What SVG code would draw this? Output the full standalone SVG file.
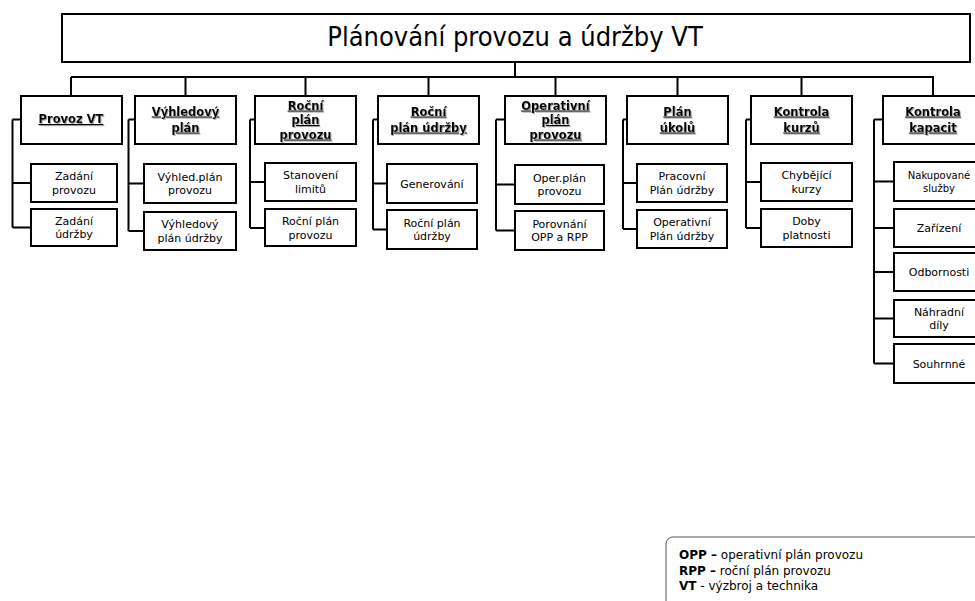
<svg xmlns="http://www.w3.org/2000/svg" width="975" height="601" viewBox="0 0 975 601">
<defs>
<filter id="ts" x="-10%" y="-20%" width="130%" height="160%">
<feDropShadow dx="1" dy="1" stdDeviation="0.6" flood-color="#888" flood-opacity="0.7"/>
</filter>
<style>
.box{fill:#fff;stroke:#000;stroke-width:2}
.conn{fill:none;stroke:#000;stroke-width:2}
.title{font-family:"DejaVu Sans Condensed","DejaVu Sans",sans-serif;font-size:27px;text-anchor:middle;fill:#000}
.hdr{font-family:"DejaVu Sans",sans-serif;font-weight:bold;font-size:11.5px;text-decoration:underline;text-anchor:middle;fill:#000;filter:url(#ts)}
.sub{font-family:"DejaVu Sans",sans-serif;font-size:11px;text-anchor:middle;fill:#000}
.leg{font-family:"DejaVu Sans",sans-serif;font-size:12px;fill:#000}
.b{font-weight:bold}
</style>
</defs>
<rect width="975" height="601" fill="#fff"/>

<g id="connectors">
<path class="conn" d="M515,62 V77 M71,77 H934 M71,77 V95 M185.5,77 V95 M305.5,77 V95 M428.5,77 V95 M555.5,77 V95 M677.5,77 V95 M801.5,77 V95 M933,77 V95"/>
<path class="conn" d="M12.5,119.5 H25 M12.5,119.5 V227.5 M12.5,183 H31 M12.5,227.5 H31"/>
<path class="conn" d="M128.5,119.5 H138 M128.5,119.5 V231 M128.5,183.5 H144 M128.5,231 H144"/>
<path class="conn" d="M250,119.5 H259 M250,119.5 V228 M250,182 H265 M250,228 H265"/>
<path class="conn" d="M373,119.5 H381 M373,119.5 V229.5 M373,183.5 H387 M373,229.5 H387"/>
<path class="conn" d="M496,119.5 H509 M496,119.5 V230.5 M496,184.5 H515 M496,230.5 H515"/>
<path class="conn" d="M623,119.5 H631 M623,119.5 V229 M623,183 H637 M623,229 H637"/>
<path class="conn" d="M746,119.5 H755 M746,119.5 V228 M746,182 H761 M746,228 H761"/>
<path class="conn" d="M874,119.5 H887 M874,119.5 V363.5 M874,181.5 H894 M874,228 H894 M874,272 H894 M874,318.5 H894 M874,363.5 H894"/>
</g>

<g id="title">
<rect class="box" x="62" y="14" width="908" height="48"/>
<text class="title" x="515" y="46">Plánování provozu a údržby VT</text>
</g>

<g id="provoz-vt">
<rect class="box" x="21" y="96" width="101" height="48"/>
<text class="hdr" x="71" y="123">Provoz VT</text>
</g>
<g id="zadani-provozu">
<rect class="box" x="31" y="164" width="86" height="38"/>
<text class="sub" x="74" y="180">Zadání</text>
<text class="sub" x="74" y="193.5">provozu</text>
</g>
<g id="zadani-udrzby">
<rect class="box" x="31" y="209" width="86" height="37"/>
<text class="sub" x="74" y="224.5">Zadání</text>
<text class="sub" x="74" y="238">údržby</text>
</g>

<g id="vyhledovy-plan">
<rect class="box" x="135" y="96" width="101" height="48"/>
<text class="hdr" x="185.5" y="115.5">Výhledový</text>
<text class="hdr" x="185.5" y="131.5">plán</text>
</g>
<g id="vyhled-plan-provozu">
<rect class="box" x="144" y="164" width="92" height="39"/>
<text class="sub" x="190" y="180.5">Výhled.plán</text>
<text class="sub" x="190" y="194">provozu</text>
</g>
<g id="vyhledovy-plan-udrzby">
<rect class="box" x="144" y="212" width="92" height="38"/>
<text class="sub" x="190" y="228">Výhledový</text>
<text class="sub" x="190" y="241.5">plán údržby</text>
</g>

<g id="rocni-plan-provozu">
<rect class="box" x="255" y="96" width="101" height="48"/>
<text class="hdr" x="305.5" y="109.5">Roční</text>
<text class="hdr" x="305.5" y="124">plán</text>
<text class="hdr" x="305.5" y="138.5">provozu</text>
</g>
<g id="stanoveni-limitu">
<rect class="box" x="265" y="163" width="91" height="38"/>
<text class="sub" x="310.5" y="179">Stanovení</text>
<text class="sub" x="310.5" y="192.5">limitů</text>
</g>
<g id="rocni-plan-provozu-sub">
<rect class="box" x="265" y="209" width="91" height="37"/>
<text class="sub" x="310.5" y="225">Roční plán</text>
<text class="sub" x="310.5" y="238.5">provozu</text>
</g>

<g id="rocni-plan-udrzby">
<rect class="box" x="378" y="96" width="101" height="48"/>
<text class="hdr" x="428.5" y="115.5">Roční</text>
<text class="hdr" x="428.5" y="131.5">plán údržby</text>
</g>
<g id="generovani">
<rect class="box" x="387" y="164" width="90" height="39"/>
<text class="sub" x="432" y="187.5">Generování</text>
</g>
<g id="rocni-plan-udrzby-sub">
<rect class="box" x="387" y="210" width="90" height="39"/>
<text class="sub" x="432" y="226.5">Roční plán</text>
<text class="sub" x="432" y="240">údržby</text>
</g>

<g id="operativni-plan-provozu">
<rect class="box" x="505" y="96" width="101" height="48"/>
<text class="hdr" x="555.5" y="109.5">Operativní</text>
<text class="hdr" x="555.5" y="124">plán</text>
<text class="hdr" x="555.5" y="138.5">provozu</text>
</g>
<g id="oper-plan-provozu">
<rect class="box" x="515" y="165" width="89" height="39"/>
<text class="sub" x="559.5" y="181.5">Oper.plán</text>
<text class="sub" x="559.5" y="195">provozu</text>
</g>
<g id="porovnani">
<rect class="box" x="515" y="211" width="89" height="39"/>
<text class="sub" x="559.5" y="227.5">Porovnání</text>
<text class="sub" x="559.5" y="241">OPP a RPP</text>
</g>

<g id="plan-ukolu">
<rect class="box" x="627" y="96" width="101" height="48"/>
<text class="hdr" x="677.5" y="115.5">Plán</text>
<text class="hdr" x="677.5" y="131.5">úkolů</text>
</g>
<g id="pracovni-plan-udrzby">
<rect class="box" x="637" y="164" width="90" height="38"/>
<text class="sub" x="682" y="180">Pracovní</text>
<text class="sub" x="682" y="193.5">Plán údržby</text>
</g>
<g id="operativni-plan-udrzby">
<rect class="box" x="637" y="210" width="90" height="38"/>
<text class="sub" x="682" y="226">Operativní</text>
<text class="sub" x="682" y="239.5">Plán údržby</text>
</g>

<g id="kontrola-kurzu">
<rect class="box" x="751" y="96" width="101" height="48"/>
<text class="hdr" x="801.5" y="115.5">Kontrola</text>
<text class="hdr" x="801.5" y="131.5">kurzů</text>
</g>
<g id="chybejici-kurzy">
<rect class="box" x="761" y="163" width="91" height="38"/>
<text class="sub" x="806.5" y="179">Chybějící</text>
<text class="sub" x="806.5" y="192.5">kurzy</text>
</g>
<g id="doby-platnosti">
<rect class="box" x="761" y="209" width="91" height="38"/>
<text class="sub" x="806.5" y="225">Doby</text>
<text class="sub" x="806.5" y="238.5">platnosti</text>
</g>

<g id="kontrola-kapacit">
<rect class="box" x="883" y="96" width="101" height="48"/>
<text class="hdr" x="933" y="115.5">Kontrola</text>
<text class="hdr" x="933" y="131.5">kapacit</text>
</g>
<g id="nakupovane-sluzby">
<rect class="box" x="894" y="162" width="92" height="39"/>
<text class="sub" x="939" y="178.5" style="font-size:10px">Nakupované</text>
<text class="sub" x="939" y="191.5" style="font-size:10px">služby</text>
</g>
<g id="zarizeni">
<rect class="box" x="894" y="209" width="92" height="38"/>
<text class="sub" x="939" y="232">Zařízení</text>
</g>
<g id="odbornosti">
<rect class="box" x="894" y="253" width="92" height="38"/>
<text class="sub" x="939" y="276">Odbornosti</text>
</g>
<g id="nahradni-dily">
<rect class="box" x="894" y="300" width="92" height="37"/>
<text class="sub" x="939" y="315.5">Náhradní</text>
<text class="sub" x="939" y="329">díly</text>
</g>
<g id="souhrnne">
<rect class="box" x="894" y="344" width="92" height="39"/>
<text class="sub" x="939" y="367.5">Souhrnné</text>
</g>

<g id="legend">
<rect x="666" y="537" width="330" height="80" rx="7" ry="7" fill="#fff" stroke="#555" stroke-width="1"/>
<text class="leg" x="679" y="559"><tspan class="b">OPP –</tspan> operativní plán provozu</text>
<text class="leg" x="679" y="574.5"><tspan class="b">RPP –</tspan> roční plán provozu</text>
<text class="leg" x="679" y="590"><tspan class="b">VT</tspan> - výzbroj a technika</text>
</g>
</svg>
